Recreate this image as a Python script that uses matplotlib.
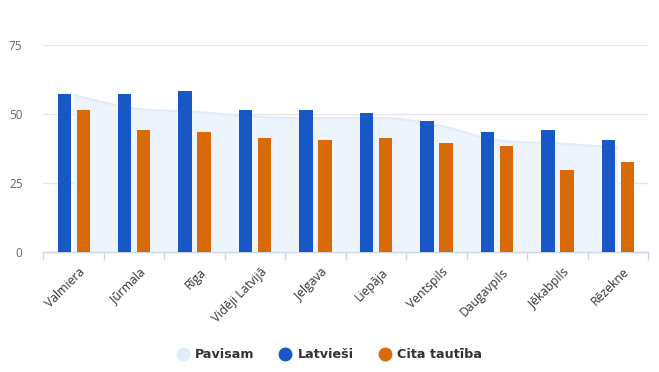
import matplotlib
matplotlib.use("Agg")
import matplotlib.pyplot as plt
from matplotlib.path import Path
from matplotlib.patches import PathPatch
from matplotlib.lines import Line2D
from matplotlib.transforms import ScaledTranslation
import numpy as np

categories = ["Valmiera", "Jūrmala", "Rīga", "Vidēji Latvijā", "Jelgava",
              "Liepāja", "Ventspils", "Daugavpils", "Jēkabpils", "Rēzekne"]
pavisam = [57.0, 52.0, 50.8, 49.0, 48.5, 48.5, 46.0, 40.5, 39.3, 37.8]
latviesi = [57.2, 57.2, 58.3, 51.4, 51.4, 50.3, 47.4, 43.4, 44.2, 40.5]
cita = [51.4, 44.2, 43.3, 41.4, 40.5, 41.4, 39.3, 38.5, 29.6, 32.5]
yticks = [0, 25, 50, 75]

C_AREA = "#edf4fc"
C_AREA_LINE = "#e0ecf8"
C_BLUE = "#1858c6"
C_ORANGE = "#d96a08"


def spline_path(xs, ys, closed_base=None):
    """Highcharts-like areaspline path through points."""
    n = len(xs)
    sm, den = 1.5, 2.5
    lc = [None] * n
    rc = [None] * n
    for i in range(n):
        if i == 0 or i == n - 1:
            lc[i] = (xs[i], ys[i])
            rc[i] = (xs[i], ys[i])
            continue
        lx = (sm * xs[i] + xs[i - 1]) / den
        ly = (sm * ys[i] + ys[i - 1]) / den
        rx = (sm * xs[i] + xs[i + 1]) / den
        ry = (sm * ys[i] + ys[i + 1]) / den
        if rx != lx:
            corr = ((ry - ly) * (rx - xs[i])) / (rx - lx) + ys[i] - ry
            ly += corr
            ry += corr
        if ly > max(ys[i - 1], ys[i]):
            ly = max(ys[i - 1], ys[i]); ry = 2 * ys[i] - ly
        elif ly < min(ys[i - 1], ys[i]):
            ly = min(ys[i - 1], ys[i]); ry = 2 * ys[i] - ly
        if ry > max(ys[i + 1], ys[i]):
            ry = max(ys[i + 1], ys[i]); ly = 2 * ys[i] - ry
        elif ry < min(ys[i + 1], ys[i]):
            ry = min(ys[i + 1], ys[i]); ly = 2 * ys[i] - ry
        lc[i] = (lx, ly)
        rc[i] = (rx, ry)
    verts = [(xs[0], ys[0])]
    codes = [Path.MOVETO]
    for i in range(1, n):
        verts += [rc[i - 1], lc[i], (xs[i], ys[i])]
        codes += [Path.CURVE4] * 3
    if closed_base is not None:
        verts += [(xs[-1], closed_base), (xs[0], closed_base), (xs[0], ys[0])]
        codes += [Path.LINETO, Path.LINETO, Path.CLOSEPOLY]
    return Path(verts, codes)


fig = plt.figure(figsize=(6.59, 3.72), dpi=100)
ax = fig.add_axes([43.3 / 659, 1 - 251.7 / 372, (648 - 43.3) / 659, (251.7 - 45) / 372])

x = np.arange(len(categories))
ax.add_patch(PathPatch(spline_path(x, pavisam, closed_base=0), facecolor=C_AREA,
                       edgecolor="none", zorder=1))
ax.add_patch(PathPatch(spline_path(x, pavisam), facecolor="none",
                       edgecolor=C_AREA_LINE, lw=1.5, zorder=1.5))

w = 0.22
ax.bar(x - 0.155, latviesi, width=w, color=C_BLUE, zorder=3)
ax.bar(x + 0.16, cita, width=w, color=C_ORANGE, zorder=3)

ax.set_xlim(-0.5, len(categories) - 0.5)
ax.set_ylim(0, 75)
ax.set_yticks(yticks)
ax.set_yticklabels([str(v) for v in yticks], fontsize=8.5, color="#666666",
                   fontfamily="Open Sans")
ax.tick_params(axis="y", length=0, pad=15)
ax.grid(axis="y", color="#e6e6e6", lw=1, zorder=0)
ax.set_axisbelow(True)

ax.set_xticks(x)
ax.set_xticklabels(categories, rotation=45, ha="right", va="top",
                   rotation_mode="anchor", fontsize=8.8, color="#333333",
                   fontfamily="Open Sans")
ax.tick_params(axis="x", which="major", length=0, pad=10)
ax.set_xticks(np.arange(-0.5, len(categories)), minor=True)
ax.tick_params(axis="x", which="minor", length=6, color="#ccd6eb", width=1)
off = ScaledTranslation(5 / 100, 0, fig.dpi_scale_trans)
for lbl in ax.get_xticklabels():
    lbl.set_transform(lbl.get_transform() + off)

for s in ["top", "right", "left"]:
    ax.spines[s].set_visible(False)
ax.spines["bottom"].set_color("#ccd6eb")
ax.spines["bottom"].set_linewidth(1)

handles = [Line2D([], [], marker="o", ls="none", ms=10, color=c, markeredgewidth=0)
           for c in [C_AREA_LINE, C_BLUE, C_ORANGE]]
leg = fig.legend(handles, ["Pavisam", "Latvieši", "Cita tautība"], loc="center",
                 bbox_to_anchor=(0.5, 1 - 355 / 372), ncol=3, frameon=False,
                 handlelength=0.9, handletextpad=0.5, columnspacing=2.0,
                 prop={"weight": "bold", "size": 9.2, "family": "DejaVu Sans"})
for t in leg.get_texts():
    t.set_color("#333333")

fig.savefig("out.png", dpi=100)
